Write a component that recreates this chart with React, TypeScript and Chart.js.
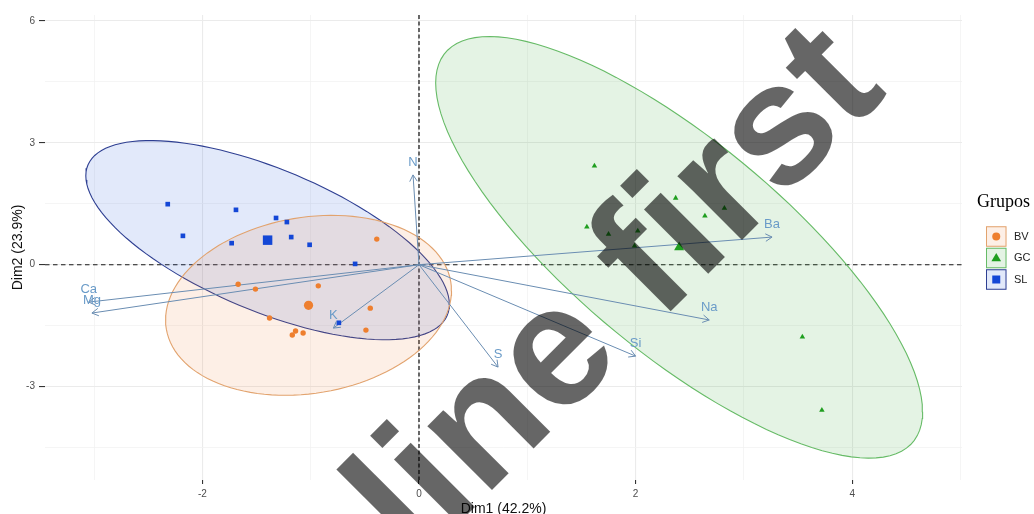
import React, { useEffect, useRef } from "react";
import { Chart, registerables } from "chart.js";

Chart.register(...registerables);

// ---------- data ----------
const groupNames = ["BV", "GC", "SL"];
const groupColors = ["#EE7F2F", "#1F9E1F", "#1447D6"];
const ellipseBorders = ["#E2A36E", "#66BB66", "#2E3F92"];
const groupShapes = ["circle", "triangle", "rect"];

const bvX = [-1.67, -1.51, -0.93, -0.45, -1.38, -1.14, -1.17, -1.07, -0.49, -0.39];
const bvY = [-0.48, -0.6, -0.52, -1.07, -1.31, -1.63, -1.73, -1.68, -1.61, 0.63];
const gcX = [1.62, 2.37, 2.82, 2.64, 1.55, 1.75, 2.02, 1.99, 3.54, 3.72];
const gcY = [2.43, 1.64, 1.39, 1.2, 0.93, 0.75, 0.83, 0.46, -1.78, -3.58];
const slX = [-2.32, -1.69, -2.18, -1.32, -1.22, -1.73, -1.18, -1.01, -0.59, -0.74];
const slY = [1.49, 1.35, 0.71, 1.15, 1.05, 0.53, 0.68, 0.49, 0.02, -1.43];

const varNames = ["N", "Ba", "Na", "Si", "S", "K", "Ca", "Mg"];
const varX = [-0.055, 3.26, 2.68, 2.0, 0.73, -0.79, -3.05, -3.02];
const varY = [2.21, 0.68, -1.36, -2.25, -2.52, -1.56, -0.92, -1.19];

const xMajorTicks = [-2, 0, 2, 4];
const xMinorTicks = [-3, -1, 1, 3, 5];
const yMajorTicks = [-3, 0, 3, 6];
const yMinorTicks = [-4.5, -1.5, 1.5, 4.5];

const xTitle = "Dim1 (42.2%)";
const yTitle = "Dim2 (23.9%)";
const legendTitle = "Grupos";
const watermarkText = "line first";

const ellipseLevel = 0.95;

// ---------- helpers ----------
const groupXs = [bvX, gcX, slX];
const groupYs = [bvY, gcY, slY];

function mean(a: number[]) {
  return a.reduce((s, v) => s + v, 0) / a.length;
}

function hexToRgba(hex: string, a: number) {
  const n = parseInt(hex.slice(1), 16);
  return `rgba(${(n >> 16) & 255},${(n >> 8) & 255},${n & 255},${a})`;
}

// normal-theory confidence ellipse (as ggplot2::stat_ellipse type "norm")
function ellipsePoints(xs: number[], ys: number[], level: number, segments = 120) {
  const n = xs.length;
  const mx = mean(xs);
  const my = mean(ys);
  let sxx = 0, syy = 0, sxy = 0;
  for (let i = 0; i < n; i++) {
    const dx = xs[i] - mx;
    const dy = ys[i] - my;
    sxx += dx * dx;
    syy += dy * dy;
    sxy += dx * dy;
  }
  sxx /= n - 1;
  syy /= n - 1;
  sxy /= n - 1;
  const d = n - 1;
  const q = (d / 2) * (Math.pow(1 - level, -2 / d) - 1); // qf(level, 2, d)
  const r = Math.sqrt(2 * q);
  const a = Math.sqrt(sxx);
  const b = sxy / a;
  const c = Math.sqrt(Math.max(syy - b * b, 0));
  const pts: { x: number; y: number }[] = [];
  for (let i = 0; i <= segments; i++) {
    const t = (2 * Math.PI * i) / segments;
    pts.push({ x: mx + r * a * Math.cos(t), y: my + r * (b * Math.cos(t) + c * Math.sin(t)) });
  }
  return pts;
}

// ---------- layout constants ----------
const CA_LEFT = 45;
const CA_RIGHT = 962;
const CA_TOP = 15;
const CA_BOTTOM = 480;
const X0_PX = 419;
const X_UNIT = 108.3;
const Y0_PX = 264.7;
const Y_UNIT = 40.63;
const X_MIN = (CA_LEFT - X0_PX) / X_UNIT;
const X_MAX = (CA_RIGHT - X0_PX) / X_UNIT;
const Y_MAX = (Y0_PX - CA_TOP) / Y_UNIT;
const Y_MIN = (Y0_PX - CA_BOTTOM) / Y_UNIT;

const SANS = "'Liberation Sans', Arial, sans-serif";
const SERIF = "'Liberation Serif', 'Times New Roman', serif";
const ARROW_COLOR = "#6A8DB2";
const LABEL_COLOR = "#6A9BC8";

function drawShape(ctx: CanvasRenderingContext2D, shape: string, x: number, y: number, s: number) {
  ctx.beginPath();
  if (shape === "circle") {
    ctx.arc(x, y, s, 0, Math.PI * 2);
  } else if (shape === "rect") {
    ctx.rect(x - s, y - s, 2 * s, 2 * s);
  } else {
    ctx.moveTo(x, y - s * 1.1);
    ctx.lineTo(x + s * 1.05, y + s * 0.7);
    ctx.lineTo(x - s * 1.05, y + s * 0.7);
    ctx.closePath();
  }
  ctx.fill();
}

const overlayPlugin = {
  id: "biplotOverlay",
  beforeDatasetsDraw(chart: any) {
    const { ctx, chartArea, scales } = chart;
    const px0 = scales.x.getPixelForValue(0);
    const py0 = scales.y.getPixelForValue(0);
    ctx.save();
    ctx.strokeStyle = "#1a1a1a";
    ctx.lineWidth = 1.1;
    ctx.setLineDash([4.5, 3.5]);
    ctx.beginPath();
    ctx.moveTo(chartArea.left, py0);
    ctx.lineTo(chartArea.right, py0);
    ctx.stroke();
    ctx.strokeStyle = "#3a3a3a";
    ctx.lineWidth = 1.5;
    ctx.setLineDash([4, 2.5]);
    ctx.beginPath();
    ctx.moveTo(px0, chartArea.top);
    ctx.lineTo(px0, chartArea.bottom);
    ctx.stroke();
    ctx.restore();
  },
  afterDatasetsDraw(chart: any) {
    const { ctx, scales } = chart;
    const px0 = scales.x.getPixelForValue(0);
    const py0 = scales.y.getPixelForValue(0);
    ctx.save();
    // arrow heads
    ctx.strokeStyle = ARROW_COLOR;
    ctx.lineWidth = 1;
    varNames.forEach((_, i) => {
      const tx = scales.x.getPixelForValue(varX[i]);
      const ty = scales.y.getPixelForValue(varY[i]);
      const ang = Math.atan2(ty - py0, tx - px0);
      const L = 7.5;
      const spread = Math.PI / 6;
      ctx.beginPath();
      ctx.moveTo(tx - L * Math.cos(ang - spread), ty - L * Math.sin(ang - spread));
      ctx.lineTo(tx, ty);
      ctx.lineTo(tx - L * Math.cos(ang + spread), ty - L * Math.sin(ang + spread));
      ctx.stroke();
    });
    // variable labels
    ctx.fillStyle = LABEL_COLOR;
    ctx.font = `13px ${SANS}`;
    ctx.textAlign = "center";
    ctx.textBaseline = "middle";
    varNames.forEach((name, i) => {
      const tx = scales.x.getPixelForValue(varX[i]);
      const ty = scales.y.getPixelForValue(varY[i]);
      ctx.fillText(name, tx, ty - 12.5);
    });
    ctx.restore();
  },
  afterDraw(chart: any) {
    const { ctx, chartArea } = chart;
    ctx.save();
    // axis titles
    ctx.fillStyle = "#111";
    ctx.font = `14px ${SANS}`;
    ctx.textAlign = "center";
    ctx.textBaseline = "middle";
    ctx.fillText(xTitle, (chartArea.left + chartArea.right) / 2, 509);
    ctx.save();
    ctx.translate(18, (chartArea.top + chartArea.bottom) / 2);
    ctx.rotate(-Math.PI / 2);
    ctx.fillText(yTitle, 0, 0);
    ctx.restore();

    // legend
    ctx.textAlign = "left";
    ctx.textBaseline = "alphabetic";
    ctx.fillStyle = "#000";
    ctx.font = `18px ${SERIF}`;
    ctx.fillText(legendTitle, 977, 207);
    const boxX = 986;
    const boxS = 20.5;
    const centers = [236.5, 258, 279.5];
    groupNames.forEach((g, i) => {
      const cy = centers[i];
      ctx.fillStyle = hexToRgba(groupColors[i], 0.12);
      ctx.fillRect(boxX, cy - boxS / 2, boxS, boxS);
      ctx.strokeStyle = ellipseBorders[i];
      ctx.lineWidth = 1;
      ctx.strokeRect(boxX + 0.5, cy - boxS / 2 + 0.5, boxS - 1, boxS - 1);
      ctx.fillStyle = groupColors[i];
      const sz = groupShapes[i] === "circle" ? 4 : groupShapes[i] === "rect" ? 4 : 4.6;
      drawShape(ctx, groupShapes[i], boxX + boxS / 2, cy, sz);
      ctx.fillStyle = "#222";
      ctx.font = `11px ${SANS}`;
      ctx.textBaseline = "middle";
      ctx.fillText(g, 1014, cy);
      ctx.textBaseline = "alphabetic";
    });

    // watermark overlay
    ctx.save();
    ctx.translate(416, 566);
    ctx.rotate(-Math.PI / 4);
    ctx.fillStyle = "rgba(0,0,0,0.6)";
    ctx.font = `bold 172px ${SANS}`;
    ctx.textAlign = "left";
    ctx.textBaseline = "alphabetic";
    ctx.fillText(watermarkText, 0, 0);
    ctx.restore();

    ctx.restore();
  },
};

export default function App() {
  const ref = useRef<HTMLCanvasElement>(null);

  useEffect(() => {
    if (!ref.current) return;
    const datasets: any[] = [];

    groupNames.forEach((g, i) => {
      datasets.push({
        type: "line",
        label: `${g} ellipse`,
        data: ellipsePoints(groupXs[i], groupYs[i], ellipseLevel),
        borderColor: ellipseBorders[i],
        backgroundColor: hexToRgba(groupColors[i], 0.12),
        borderWidth: 1.1,
        pointRadius: 0,
        fill: "shape",
        tension: 0,
        order: 10,
      });
    });

    varNames.forEach((v, i) => {
      datasets.push({
        type: "line",
        label: v,
        data: [
          { x: 0, y: 0 },
          { x: varX[i], y: varY[i] },
        ],
        borderColor: ARROW_COLOR,
        borderWidth: 1,
        pointRadius: 0,
        fill: false,
        order: 5,
      });
    });

    const smallR = [2.7, 3.2, 3.3];
    const bigR = [4.6, 5.8, 6.7];
    groupNames.forEach((g, i) => {
      const xs = groupXs[i];
      const ys = groupYs[i];
      datasets.push({
        type: "scatter",
        label: g,
        data: xs.map((x, k) => ({ x, y: ys[k] })),
        pointStyle: groupShapes[i],
        pointRadius: smallR[i],
        backgroundColor: groupColors[i],
        borderColor: groupColors[i],
        borderWidth: 0,
        order: 1,
      });
      datasets.push({
        type: "scatter",
        label: `${g} mean`,
        data: [{ x: mean(xs), y: mean(ys) }],
        pointStyle: groupShapes[i],
        pointRadius: bigR[i],
        backgroundColor: groupColors[i],
        borderColor: groupColors[i],
        borderWidth: 0,
        order: 0,
      });
    });

    const isMajorX = (v: number) => xMajorTicks.includes(v);
    const isMajorY = (v: number) => yMajorTicks.includes(v);

    const chart = new Chart(ref.current, {
      type: "scatter",
      data: { datasets },
      plugins: [overlayPlugin],
      options: {
        animation: false,
        responsive: true,
        maintainAspectRatio: false,
        devicePixelRatio: 1,
        layout: { padding: { left: 0, top: CA_TOP, right: 1034 - CA_RIGHT, bottom: 0 } },
        plugins: { legend: { display: false }, tooltip: { enabled: false }, title: { display: false } },
        scales: {
          x: {
            type: "linear",
            min: X_MIN,
            max: X_MAX,
            afterBuildTicks: (s: any) => {
              s.ticks = [...xMinorTicks, ...xMajorTicks].sort((a, b) => a - b).map((v) => ({ value: v }));
            },
            afterFit: (s: any) => {
              s.height = 514 - CA_BOTTOM;
            },
            border: { display: false },
            grid: {
              color: (c: any) => (isMajorX(c.tick?.value) ? "#EBEBEB" : "#F3F3F3"),
              lineWidth: (c: any) => (isMajorX(c.tick?.value) ? 1.1 : 0.8),
              tickColor: (c: any) => (isMajorX(c.tick?.value) ? "#333" : "rgba(0,0,0,0)"),
              tickLength: 4,
              drawTicks: true,
            },
            ticks: {
              autoSkip: false,
              maxRotation: 0,
              padding: 4,
              color: "#4D4D4D",
              font: { family: SANS, size: 10 },
              callback: (v: any) => (isMajorX(Number(v)) ? String(v) : ""),
            },
          },
          y: {
            type: "linear",
            min: Y_MIN,
            max: Y_MAX,
            afterBuildTicks: (s: any) => {
              s.ticks = [...yMinorTicks, ...yMajorTicks].sort((a, b) => a - b).map((v) => ({ value: v }));
            },
            afterFit: (s: any) => {
              s.width = CA_LEFT;
            },
            border: { display: false },
            grid: {
              color: (c: any) => (isMajorY(c.tick?.value) ? "#EBEBEB" : "#F3F3F3"),
              lineWidth: (c: any) => (isMajorY(c.tick?.value) ? 1.1 : 0.8),
              tickColor: (c: any) => (isMajorY(c.tick?.value) ? "#333" : "rgba(0,0,0,0)"),
              tickLength: 6,
              drawTicks: true,
            },
            ticks: {
              autoSkip: false,
              padding: 4,
              color: "#4D4D4D",
              font: { family: SANS, size: 10 },
              callback: (v: any) => (isMajorY(Number(v)) ? String(v) : ""),
            },
          },
        },
      },
    } as any);

    return () => chart.destroy();
  }, []);

  return (
    <div style={{ position: "fixed", left: 0, top: 0, width: 1034, height: 514, background: "#fff" }}>
      <canvas ref={ref} />
    </div>
  );
}
